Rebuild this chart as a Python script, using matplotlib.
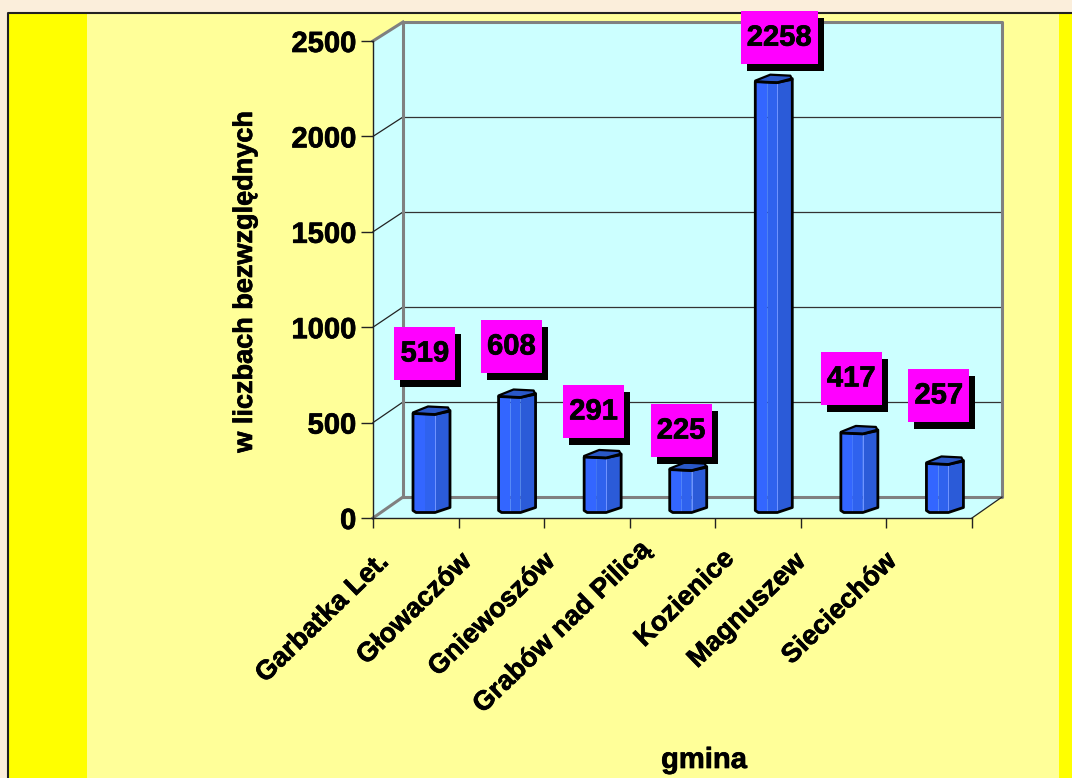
import matplotlib
matplotlib.use("Agg")
import numpy as np
import matplotlib.pyplot as plt
import matplotlib.patheffects as pe
from matplotlib.patches import Polygon, Rectangle

plt.rcParams['font.family'] = ['Liberation Sans', 'DejaVu Sans']
plt.rcParams['font.weight'] = 'bold'

gminy = ["Garbatka Let.", "Głowaczów", "Gniewoszów", "Grabów nad Pilicą",
         "Kozienice", "Magnuszew", "Sieciechów"]
wartosci = [519, 608, 291, 225, 2258, 417, 257]
y_ticks = [0, 500, 1000, 1500, 2000, 2500]

# label box placement relative to the top of its bar, in pixels
label_dx = [9, 10, 6.5, 8.5, 21, 7.5, 9.5]
label_dy = [60, 50, 45.5, 39, 44, 54.5, 68]
# shift of the rotated category names, in pixels
name_dx = [-12, -15, -17, -7, -9, -23, -18]
name_dy = [0, 0, 0, 12, 3, 0, 0]

W, H = 1072, 778
fig = plt.figure(figsize=(W / 100, H / 100), dpi=100, facecolor='#fbeedb')
heavy = [pe.withStroke(linewidth=0.5, foreground='black')]

# background in reference pixels
bg = fig.add_axes([0, 0, 1, 1])
bg.set_xlim(0, W)
bg.set_ylim(H, 0)
bg.axis('off')
bg.add_patch(Rectangle((9, 13), 78, H, fc='#ffff00', ec='none'))
bg.add_patch(Rectangle((87, 13), 972, H, fc='#ffff99', ec='none'))
bg.add_patch(Rectangle((1059, 13), 13, H, fc='#ffff00', ec='none'))
bg.plot([8, 8, W], [H, 12.5, 12.5], color='#222222', lw=1.5)

# walls of the 3d box
left, right, top, bottom = 373, 972, 41, 518
dep_x, dep_y = 30, 21
bg.add_patch(Polygon([(left + dep_x, 22), (right + dep_x, 22), (right + dep_x, bottom - dep_y), (left + dep_x, bottom - dep_y)],
                     fc='#ccffff', ec='none'))
bg.add_patch(Polygon([(left, top), (left + dep_x, 22), (left + dep_x, bottom - dep_y), (left, bottom)], fc='#ccffff', ec='none'))
bg.add_patch(Polygon([(left, bottom), (left + dep_x, bottom - dep_y), (right + dep_x, bottom - dep_y), (right, bottom)],
                     fc='#ccffff', ec='none'))

ax = fig.add_axes([left / W, 1 - bottom / H, (right - left) / W, (bottom - top) / H])
ax.patch.set_alpha(0)
ax.set_xlim(0, 7)
ax.set_ylim(0, 2500)
ux = 7 / (right - left)
uy = 2500 / (bottom - top)


def back(v):
    # height of a value on the back wall, the depth shrinks slightly going up
    return v + (dep_y - 2 * v / 2500) * uy


for v in y_ticks[1:-1]:
    ax.plot([dep_x * ux, 7 + dep_x * ux], [back(v)] * 2, color='#333333', lw=0.9, clip_on=False, zorder=1)
    ax.plot([0, dep_x * ux], [v, back(v)], color='#222222', lw=0.9, clip_on=False, zorder=1)

# grey frame of back wall and floor
ax.plot([dep_x * ux, dep_x * ux, 7 + dep_x * ux, 7 + dep_x * ux, dep_x * ux],
        [back(0), back(2500), back(2500), back(0), back(0)],
        color='#808080', lw=2.2, clip_on=False, zorder=1.5)
ax.plot([0, dep_x * ux], [0, back(0)], color='#808080', lw=2.2, clip_on=False, zorder=1.5)
ax.plot([0, dep_x * ux], [2500, back(2500)], color='#808080', lw=2.2, clip_on=False, zorder=1.5)
ax.plot([7, 7 + dep_x * ux], [0, back(0)], color='#222222', lw=0.9, clip_on=False, zorder=1.5)

for s in ['top', 'right']:
    ax.spines[s].set_visible(False)
for s in ['left', 'bottom']:
    ax.spines[s].set_linewidth(1)
    ax.spines[s].set_color('#222222')

ax.set_yticks(y_ticks)
ax.set_yticklabels([str(v) for v in y_ticks], fontsize=21, fontweight='bold')
for t in ax.get_yticklabels():
    t.set_path_effects(heavy)
ax.set_xticks(range(8))
ax.set_xticklabels([])
ax.tick_params(axis='y', length=8.6, width=1, color='#222222', pad=3.4)
ax.tick_params(axis='x', length=7, width=1, color='#222222')
ax.set_ylabel("w liczbach bezwzględnych", fontsize=19.5, fontweight='bold')
ax.yaxis.set_label_coords(-0.192, 0.495)
ax.yaxis.label.set_path_effects(heavy)


def pts(i, v, shape):
    return [(i + (40 + dx) * ux, v + (5.5 + dy) * uy) for dx, dy in shape]


for i, v in enumerate(wartosci):
    ax.add_patch(Polygon(pts(i, 0, [(0, 1), (3, 0), (12, 0), (12, 0)]) + pts(i, v, [(12, 0), (0, 0)]),
                         fc='#3366ff', ec='none', zorder=3, clip_on=False))
    ax.add_patch(Polygon(pts(i, 0, [(12, 0), (22, 0)]) + pts(i, v, [(22, -1), (12, 0)]),
                         fc='#2f62ee', ec='none', zorder=3, clip_on=False))
    ax.add_patch(Polygon(pts(i, 0, [(22, 0), (37, 5), (37, 7)]) + pts(i, v, [(37, 2), (22, -1)]),
                         fc='#2b5bd8', ec='none', zorder=3, clip_on=False))
    ax.add_patch(Polygon(pts(i, 0, [(22, 0), (22.8, 0)]) + pts(i, v, [(22.8, -1), (22, -1)]),
                         fc='#6f93ff', ec='none', zorder=3.1, clip_on=False))
    ax.add_patch(Polygon(pts(i, v, [(0, 0), (22, -1), (37, 2), (35, 6), (15, 7), (0, 1)]),
                         fc='#2a58c8', ec='black', lw=1.6, joinstyle='round', zorder=3.2, clip_on=False))
    ax.add_patch(Polygon(pts(i, 0, [(0, 2), (3, 0), (22, 0), (37, 5), (37, 7)]) + pts(i, v, [(37, 3), (22, -1), (0, 0)]),
                         fc='none', ec='black', lw=2, joinstyle='round', zorder=3.3, clip_on=False))

    # value box with a hard shadow
    bw = 77 if v >= 1000 else 61
    bh = 53
    cx = i + 0.5 + label_dx[i] * ux
    cy = v + (5.5 + label_dy[i]) * uy
    ax.add_patch(Rectangle((cx - bw / 2 * ux + 6 * ux, cy - bh / 2 * uy - 7 * uy), bw * ux, bh * uy,
                           fc='black', ec='none', zorder=5, clip_on=False))
    ax.add_patch(Rectangle((cx - bw / 2 * ux, cy - bh / 2 * uy), bw * ux, bh * uy,
                           fc='#ff00ff', ec='none', zorder=5.1, clip_on=False))
    ax.text(cx, cy, str(v), fontsize=21, fontweight='bold', ha='center', va='center', zorder=5.2, path_effects=heavy)

    ax.annotate(gminy[i], xy=(i + 0.5, 0), xytext=(-20 + name_dx[i] * 0.72, -22 + name_dy[i] * 0.72),
                textcoords='offset points', rotation=44, rotation_mode='anchor', ha='right', va='top',
                fontsize=19.5, fontweight='bold', annotation_clip=False, path_effects=heavy)

bg.text(704, 760, "gmina", fontsize=21, fontweight='bold', ha='center', va='center', path_effects=heavy)

fig.savefig("out.png", dpi=100, facecolor=fig.get_facecolor())
